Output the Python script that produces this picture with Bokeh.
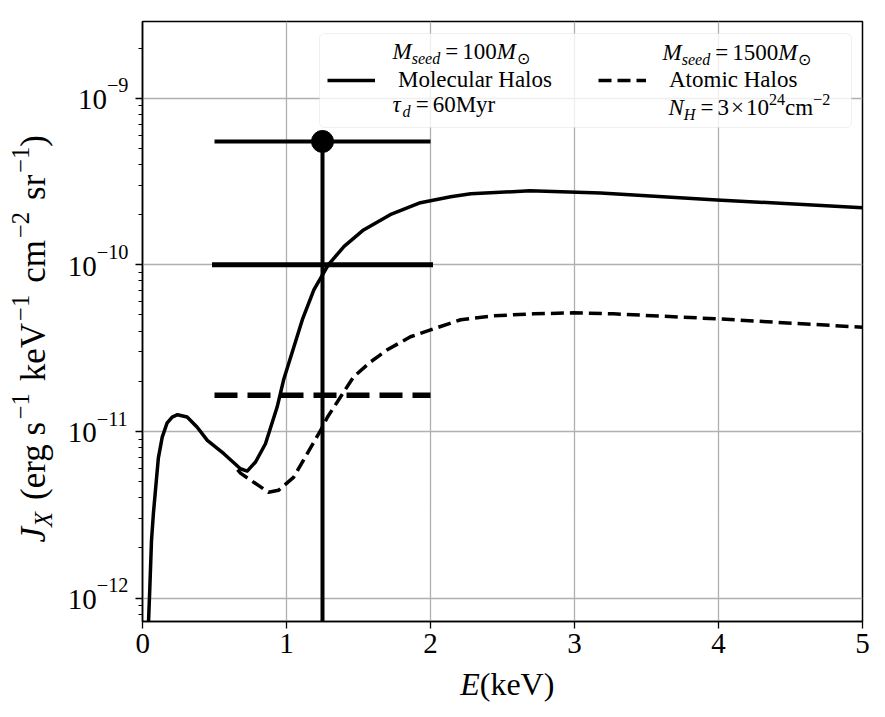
import math

from bokeh.embed import file_html
from bokeh.layouts import column, row
from bokeh.models import (BoxAnnotation, CustomJSTickFormatter, FixedTicker,
                          Label, Legend, LegendItem, Range1d)
from bokeh.plotting import figure
from bokeh.resources import INLINE

# ---- spectra: energy (keV) and J_X (erg s^-1 keV^-1 cm^-2 sr^-1) ----
mol_E = [0.04, 0.051, 0.0625, 0.076, 0.11, 0.137, 0.17, 0.206, 0.243, 0.31,
         0.38, 0.45, 0.565, 0.68, 0.727, 0.785, 0.854, 0.935, 0.98, 1.11,
         1.19, 1.29, 1.40, 1.535, 1.72, 1.93, 2.14, 2.28, 2.69, 3.18, 3.99, 5.0]
mol_J = [6.5e-13, 1.16e-12, 2.21e-12, 3.24e-12, 6.92e-12, 9.25e-12, 1.12e-11,
         1.22e-11, 1.26e-11, 1.22e-11, 1.06e-11, 8.83e-12, 7.35e-12, 5.97e-12,
         5.78e-12, 6.55e-12, 8.43e-12, 1.40e-11, 2.04e-11, 4.68e-11, 7.08e-11,
         1.00e-10, 1.29e-10, 1.62e-10, 2.00e-10, 2.36e-10, 2.56e-10, 2.67e-10,
         2.78e-10, 2.70e-10, 2.45e-10, 2.20e-10]

atom_E = [0.66, 0.68, 0.875, 0.944, 1.049, 1.236, 1.285, 1.375, 1.465, 1.583,
          1.70, 1.861, 2.0, 2.21, 2.44, 2.715, 2.99, 3.27, 3.99, 5.0]
atom_J = [5.89e-12, 5.62e-12, 4.31e-12, 4.43e-12, 5.30e-12, 1.01e-11, 1.22e-11,
          1.61e-11, 2.12e-11, 2.61e-11, 3.09e-11, 3.70e-11, 4.07e-11, 4.68e-11,
          4.94e-11, 5.08e-11, 5.15e-11, 5.08e-11, 4.74e-11, 4.22e-11]

# ---- measured point with its band, plus the two band levels ----
obs_E = [1.25]
obs_J = [5.5e-10]
obs_J_low = [1.0e-13]
band_E_lo = [0.5]
band_E_hi = [2.0]
mol_level = [1.0e-10]
atom_level = [1.65e-11]

x_ticks = [0, 1, 2, 3, 4, 5]
y_ticks = [1e-12, 1e-11, 1e-10, 1e-9]
y_tick_exp = ["12", "11", "10", "9"]

FONT = "Liberation Serif"
MINUS = "\u2212"
W, H = 885, 717
LEFT_W = 135                      # strip holding y tick labels and y title
FRAME_L, FRAME_R, FRAME_T, FRAME_B = 142, 862, 21, 621
MAIN_H = 665                      # main figure height; x title strip below

y_range = Range1d(7.23e-13, 2.886e-9)

# ---------------- main plot ----------------
p = figure(width=W - LEFT_W, height=MAIN_H, output_backend="svg",
           toolbar_location=None, y_axis_type="log",
           x_range=Range1d(0, 5), y_range=y_range,
           min_border_left=FRAME_L - LEFT_W, min_border_right=W - FRAME_R,
           min_border_top=FRAME_T, min_border_bottom=MAIN_H - FRAME_B)
p.background_fill_color = "white"
p.border_fill_color = "white"
p.outline_line_color = "black"
p.outline_line_width = 1.5

p.xaxis.ticker = FixedTicker(ticks=x_ticks, minor_ticks=[])
p.yaxis.ticker = FixedTicker(
    ticks=y_ticks,
    minor_ticks=[m * 10.0 ** e for e in range(-13, -8) for m in range(2, 10)])
# y tick texts are typeset in the strip on the left
p.yaxis.formatter = CustomJSTickFormatter(code="return ''")
for ax in (p.xaxis[0], p.yaxis[0]):
    ax.axis_line_color = "black"
    ax.axis_line_width = 1.5
    ax.major_tick_line_color = "black"
    ax.major_tick_line_width = 1.3
    ax.minor_tick_line_color = "black"
    ax.minor_tick_line_width = 1.0
    ax.major_tick_in = 0
    ax.major_tick_out = 7
    ax.minor_tick_in = 0
    ax.minor_tick_out = 4
    ax.major_label_text_font = FONT
    ax.major_label_text_font_size = "29px"
    ax.major_label_text_color = "black"
p.xaxis.major_label_standoff = 5
p.yaxis.major_label_standoff = 0

for g in (p.xgrid[0], p.ygrid[0]):
    g.grid_line_color = "#b0b0b0"
    g.grid_line_width = 1.3
p.ygrid.minor_grid_line_color = None

# spectra
mol = p.line(mol_E, mol_J, line_color="black", line_width=3.5,
             line_join="round")
atom = p.line(atom_E, atom_J, line_color="black", line_width=3.5,
              line_dash="13 6", line_join="round")

# bands and the measured point
p.segment(x0=band_E_lo, x1=band_E_hi, y0=mol_level, y1=mol_level,
          line_color="black", line_width=5, line_cap="square")
p.segment(x0=band_E_lo, x1=band_E_hi, y0=atom_level, y1=atom_level,
          line_color="black", line_width=5.5, line_dash="23 10")
p.segment(x0=band_E_lo, x1=band_E_hi, y0=obs_J, y1=obs_J,
          line_color="black", line_width=4)
p.segment(x0=obs_E, x1=obs_E, y0=obs_J, y1=obs_J_low,
          line_color="black", line_width=4)
p.scatter(obs_E, obs_J, size=22, marker="circle", fill_color="black",
          line_color="black")

# legend frame (rounded, translucent) drawn as its own box
LEG_L, LEG_R, LEG_T, LEG_B = 319, 851, 33, 127
p.add_layout(BoxAnnotation(left=LEG_L - FRAME_L, right=LEG_R - FRAME_L,
                           top=FRAME_B - LEG_T, bottom=FRAME_B - LEG_B,
                           left_units="screen", right_units="screen",
                           top_units="screen", bottom_units="screen",
                           fill_color="white", fill_alpha=0.8,
                           line_color="#cccccc", line_width=1,
                           border_radius=5, level="annotation"))
# handles; the middle text line of each entry is the item label
legend = Legend(items=[LegendItem(label="Molecular Halos", renderers=[mol]),
                       LegendItem(label="Atomic Halos", renderers=[atom])],
                orientation="horizontal",
                location=(LEG_L - FRAME_L, FRAME_B - LEG_B),
                margin=0, padding=8, spacing=26,
                glyph_width=48, glyph_height=78,
                label_standoff=23, label_width=174, label_height=78,
                label_text_font=FONT, label_text_font_size="23px",
                label_text_color="black",
                border_line_color="white", border_line_alpha=0.0,
                background_fill_color="white", background_fill_alpha=0.0)
p.add_layout(legend)

# ---------------- strips for the axis titles ----------------
left = figure(width=LEFT_W, height=H, output_backend="svg",
              toolbar_location=None, y_axis_type="log",
              x_axis_location=None, y_axis_location=None,
              x_range=Range1d(0, LEFT_W), y_range=y_range,
              min_border_left=0, min_border_right=0,
              min_border_top=FRAME_T, min_border_bottom=H - FRAME_B)
bottom = figure(width=W - LEFT_W, height=H - MAIN_H, output_backend="svg",
                toolbar_location=None,
                x_axis_location=None, y_axis_location=None,
                x_range=Range1d(0, W - LEFT_W), y_range=Range1d(0, H - MAIN_H),
                min_border=0)
for f in (left, bottom):
    f.outline_line_color = None
    f.grid.visible = False
    f.background_fill_color = "white"
    f.border_fill_color = "white"

# ---------------- rich text from pieces ----------------
# piece = (text, italic, role, gap before in px); role "n", "sub" or "sup"
W_REG = {" ": .25, "(": .333, ")": .333, "e": .444, "r": .333, "g": .5,
         "s": .389, "k": .5, "V": .722, "c": .444, "m": .778, "M": .889,
         "y": .5, "=": .564, MINUS: .564, "\u00d7": .564, "\u2299": .75}
W_IT = {"J": .444, "X": .611, "E": .611, "M": .833, "N": .667, "H": .722,
        "s": .389, "e": .444, "d": .5, "\u03c4": .44}
BASELINE_FIX = 0.3     # em; lifts the drawn baseline onto the requested one


def text_width(s, size, italic):
    table = W_IT if italic else W_REG
    return sum(table.get(ch, 0.5) for ch in s) * size


def rich(fig, pieces, x, y, size, y_units="screen", y_offset=0.0,
         vertical=False, sup=0.45, sub=0.22, align="left"):
    sized = []
    total = 0.0
    for text, italic, role, gap in pieces:
        fs = size if role == "n" else size * 0.7
        lead = len(text) - len(text.lstrip(" "))
        gap += lead * W_REG[" "] * fs          # svg drops leading blanks
        text = text.lstrip(" ")
        w = text_width(text, fs, italic)
        sized.append((text, italic, role, gap, fs, w))
        total += gap + w
    pos = -total if align == "right" else 0.0
    for text, italic, role, gap, fs, w in sized:
        pos += gap
        up = {"n": 0.0, "sub": -sub * size, "sup": sup * size}[role]
        up += BASELINE_FIX * fs
        common = dict(text=text, text_font=FONT, text_color="black",
                      text_font_style="italic" if italic else "normal",
                      text_font_size=f"{fs:.1f}px",
                      text_baseline="alphabetic", text_align="left",
                      x_units="screen", y_units=y_units, level="overlay")
        if vertical:
            lab = Label(x=x - up, y=y + pos, angle=math.pi / 2, **common)
        else:
            lab = Label(x=x + pos, y=y, y_offset=y_offset + up, **common)
        fig.add_layout(lab)
        pos += w


# x title
rich(bottom, [("E", True, "n", 0), ("(keV)", False, "n", 0)],
     452.7 - LEFT_W, H - 693, 32)

# y title, reading upward
rich(left, [("J", True, "n", 0), ("X", True, "sub", 0),
            ("(erg s", False, "n", 12), (MINUS + "1", False, "sup", 2),
            ("keV", False, "n", 12), (MINUS + "1", False, "sup", 2),
            ("cm", False, "n", 12), (MINUS + "2", False, "sup", 2),
            ("sr", False, "n", 12), (MINUS + "1", False, "sup", 2),
            (")", False, "n", 0)],
     43, FRAME_B - 542, 35, vertical=True)

# y tick labels 10^-n, placed on the shared log scale
for tick, ex in zip(y_ticks, y_tick_exp):
    rich(left, [("10", False, "n", 0), (MINUS + ex, False, "sup", 0)],
         128, tick, 29, y_units="data", y_offset=-10, sup=0.58,
         align="right")


# legend text lines above and below the item labels (main plot coords)
def in_main(cx, cy):
    return cx - FRAME_L, FRAME_B - cy


seed_100 = [("M", True, "n", 0), ("seed", True, "sub", 0), ("=", False, "n", 5),
            ("100", False, "n", 4), ("M", True, "n", 0),
            ("\u2299", False, "sub", 1)]
seed_1500 = [("M", True, "n", 0), ("seed", True, "sub", 0), ("=", False, "n", 5),
             ("1500", False, "n", 4), ("M", True, "n", 0),
             ("\u2299", False, "sub", 1)]
tau = [("\u03c4", True, "n", 0), ("d", True, "sub", 0), ("=", False, "n", 5),
       ("60Myr", False, "n", 4)]
column_density = [("N", True, "n", 0), ("H", True, "sub", 0),
                  ("=", False, "n", 5), ("3", False, "n", 4),
                  ("\u00d7", False, "n", 2), ("10", False, "n", 2),
                  ("24", False, "sup", 0), ("cm", False, "n", 0),
                  (MINUS + "2", False, "sup", 0)]
rich(p, seed_100, *in_main(392, 58), 23)
rich(p, tau, *in_main(392, 111), 23)
rich(p, seed_1500, *in_main(662, 59), 23)
rich(p, column_density, *in_main(668, 114), 23)

layout = row(left, column(p, bottom, spacing=0), spacing=0)
open("out.html", "w").write(file_html(layout, INLINE))
